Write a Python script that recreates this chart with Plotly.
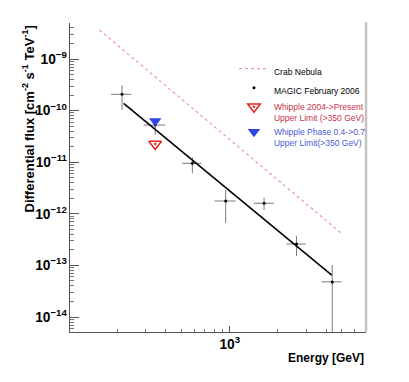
import plotly.graph_objects as go

# MAGIC February 2006 spectrum points (energy in GeV, flux in cm^-2 s^-1 TeV^-1)
magic_energy = [213, 343, 585, 944, 1638, 2610, 4360]
magic_e_lo = [182, 291, 506, 806, 1413, 2260, 3740]
magic_e_hi = [243, 396, 666, 1090, 1884, 2985, 4990]
magic_flux = [2.07e-10, 5.26e-11, 9.5e-12, 1.77e-12, 1.6e-12, 2.6e-13, 4.8e-14]
magic_f_hi = [3.1e-10, 6.5e-11, 1.24e-11, 2.9e-12, 2.05e-12, 3.7e-13, 1.02e-13]
magic_f_lo = [1.03e-10, 3.4e-11, 6.1e-12, 6.7e-13, 1.19e-12, 1.52e-13, 1e-16]

# power-law fit and Crab reference (end points)
fit_energy = [218, 4330]
fit_flux = [1.38e-10, 6.5e-14]
crab_energy = [154, 4920]
crab_flux = [3.65e-9, 4.3e-13]

# Whipple upper limits
whipple_present_energy = [343]
whipple_present_flux = [2.25e-11]
whipple_phase_energy = [343]
whipple_phase_flux = [6.3e-11]

FONT = "Liberation Sans, Arial, sans-serif"
RED_TXT = "#c8324a"
BLUE_TXT = "#4a5ad8"

fig = go.Figure()

fig.add_trace(go.Scatter(
    x=crab_energy, y=crab_flux, mode="lines", name="Crab Nebula",
    line=dict(color="#ec9a9a", width=1.2, dash="dot"),
))
fig.add_trace(go.Scatter(
    x=magic_energy, y=magic_flux, mode="markers", name="MAGIC February 2006",
    marker=dict(color="black", size=3),
    error_x=dict(type="data", symmetric=False,
                 array=[h - e for h, e in zip(magic_e_hi, magic_energy)],
                 arrayminus=[e - l for e, l in zip(magic_energy, magic_e_lo)],
                 color="#7a7a7a", thickness=1, width=0),
    error_y=dict(type="data", symmetric=False,
                 array=[h - f for h, f in zip(magic_f_hi, magic_flux)],
                 arrayminus=[f - l for f, l in zip(magic_flux, magic_f_lo)],
                 color="#7a7a7a", thickness=1, width=0),
))
fig.add_trace(go.Scatter(
    x=fit_energy, y=fit_flux, mode="lines", showlegend=False,
    line=dict(color="black", width=1.6),
))
fig.add_trace(go.Scatter(
    x=whipple_present_energy, y=whipple_present_flux, mode="markers",
    name=f"<span style='color:{RED_TXT}'>Whipple 2004->Present<br>Upper Limit (>350 GeV)</span>",
    marker=dict(symbol="triangle-down-open-dot", color="#e82020", size=11,
                line=dict(width=1.5, color="#e82020")),
))
fig.add_trace(go.Scatter(
    x=whipple_phase_energy, y=whipple_phase_flux, mode="markers",
    name=f"<span style='color:{BLUE_TXT}'>Whipple Phase 0.4->0.7<br>Upper Limit(>350 GeV)</span>",
    marker=dict(symbol="triangle-down", color="#3344e6", size=11),
))

# right frame line
fig.add_shape(type="line", xref="paper", yref="paper", x0=1, x1=1, y0=0, y1=1.003,
              line=dict(color="#c4c4c4", width=2.5))

fig.add_annotation(
    text="Differential flux [cm<sup>-2</sup> s<sup>-1</sup> TeV<sup>-1</sup>]",
    xref="paper", yref="paper", x=-0.142, y=1.0, xanchor="center", yanchor="top",
    textangle=-90, showarrow=False, font=dict(family=FONT, size=13, color="black", weight="bold"),
)
fig.add_annotation(
    text="Energy [GeV]", xref="paper", yref="paper", x=1.0, y=-0.084,
    xanchor="right", yanchor="middle", showarrow=False,
    font=dict(family=FONT, size=12, color="black", weight="bold"),
)

fig.update_layout(
    width=401, height=374,
    margin=dict(l=62, r=43, t=15, b=50),
    paper_bgcolor="white", plot_bgcolor="white",
    font=dict(family=FONT, size=11, color="black"),
    showlegend=True,
    legend=dict(x=0.554, y=0.891, xanchor="left", yanchor="top",
                font=dict(family=FONT, size=8.5, color="black"),
                bgcolor="rgba(0,0,0,0)", valign="top"),
    xaxis=dict(
        type="log", range=[2.004, 3.85], dtick=1, exponentformat="power",
        showgrid=False, zeroline=False, showline=True, linecolor="#555555", linewidth=1,
        ticks="inside", ticklen=6, tickcolor="#555555",
        minor=dict(ticks="inside", ticklen=3, dtick="D1", tickcolor="#777777", showgrid=False),
        tickfont=dict(family=FONT, size=11, weight="bold"),
    ),
    yaxis=dict(
        type="log", range=[-14.29, -8.302], dtick=1, exponentformat="power",
        showgrid=False, zeroline=False, showline=True, linecolor="#555555", linewidth=1,
        ticks="inside", ticklen=9, tickcolor="#555555",
        minor=dict(ticks="inside", ticklen=4, dtick="D1", tickcolor="#777777", showgrid=False),
        tickfont=dict(family=FONT, size=11, weight="bold"),
    ),
)

fig.write_html("out.html")
